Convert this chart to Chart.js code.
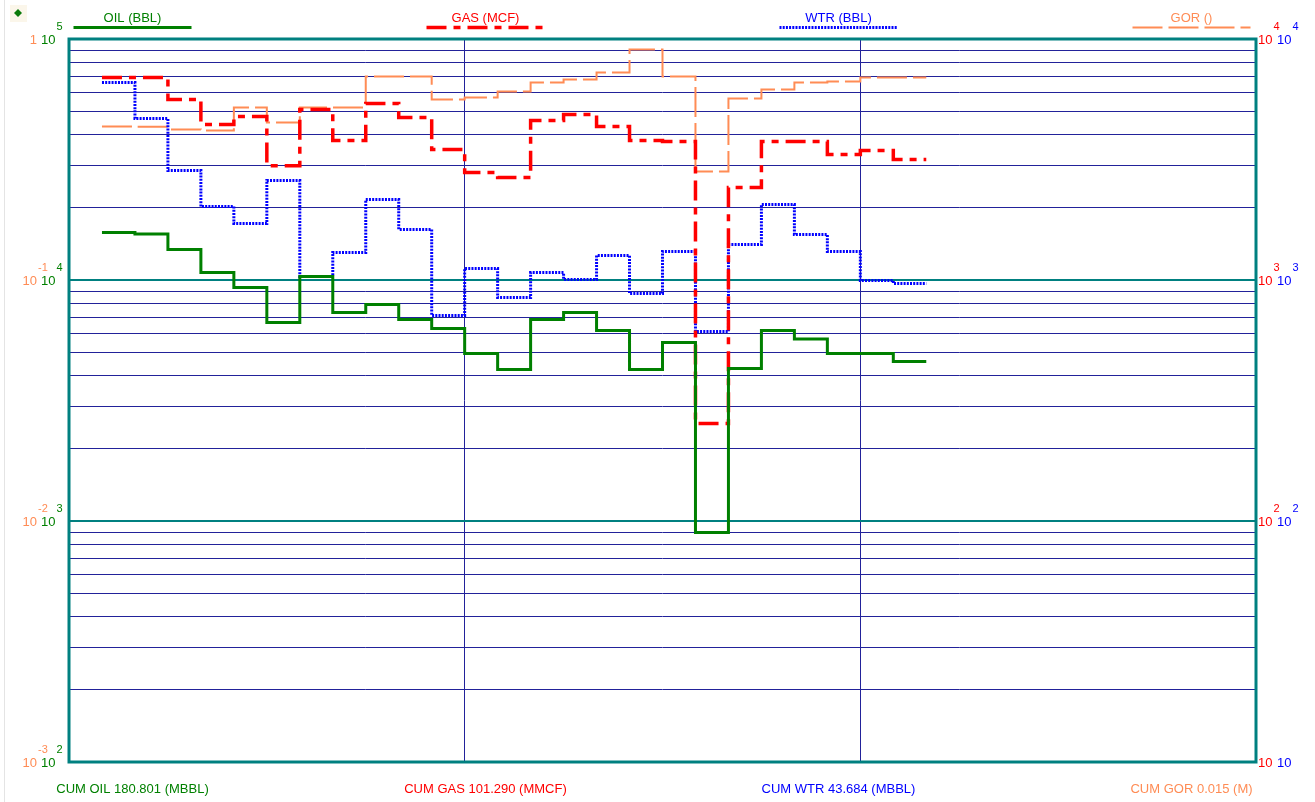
<!DOCTYPE html>
<html><head><meta charset="utf-8">
<script src="https://cdn.jsdelivr.net/npm/chart.js@4.4.1/dist/chart.umd.min.js"></script>
<style>html,body{margin:0;padding:0;background:#fff}canvas{display:block}</style>
</head><body>
<canvas id="c" width="1315" height="802"></canvas>
<script>
// ---- data (monthly production) ----
const monthStart = [1,2,3,4,5,6,7,8,9,10,11,12,13,14,15,16,17,18,19,20,21,22,23,24,25];
const oilBbl = [15740,15520,13390,10740,9310,6660,10340,7330,7910,6860,6290,4955,4253,6860,7330,6170,4253,5505,896,4294,6170,5690,4955,4955,4590];
const gasMcf = [6922,6922,5610,4418,4770,2980,5100,3792,5400,4724,3479,2793,2663,4590,4861,4334,3792,3756,254,2420,3756,3756,3316,3445,3162];
const wtrBbl = [6599,4679,2847,2018,1716,2588,1034,1300,2158,1620,712,1116,846,1074,1005,1264,879,1313,611,1404,2057,1545,1313,995,967];
const gorRatio = [0.4333,0.432,0.4211,0.4172,0.5196,0.4502,0.5196,0.5196,0.699,0.699,0.561,0.5719,0.6057,0.66,0.6792,0.7261,0.9046,0.699,0.282,0.5665,0.6171,0.66,0.6664,0.6924,0.6924];

const seriesNames = ['OIL (BBL)','GAS (MCF)','WTR (BBL)','GOR ()'];
const cumLabels = ['CUM OIL 180.801 (MBBL)','CUM GAS 101.290 (MMCF)','CUM WTR 43.684 (MBBL)','CUM GOR 0.015 (M)'];

// tick labels
const monthGrid = [0,12,24,36];
const oilTickVals = [1e2,1e3,1e4,1e5];
const oilTickBase = ['10','10','10','10'];
const oilTickExp  = ['2','3','4','5'];
const gorTickVals = [1e-3,1e-2,1e-1,1];
const gorTickBase = ['10','10','10','1'];
const gorTickExp  = ['-3','-2','-1',''];
const gasTickVals = [1e1,1e2,1e3,1e4];
const gasTickBase = ['10','10','10','10'];
const gasTickExp  = ['','2','3','4'];
const wtrTickVals = [1e1,1e2,1e3,1e4];
const wtrTickBase = ['10','10','10','10'];
const wtrTickExp  = ['','2','3','4'];

// ---- styles ----
const TEAL = '#008080', NAVY = '#22229a';
const C_OIL = '#008000', C_GAS = '#ff0000', C_WTR = '#0000ff', C_GOR = '#ff8c55';
const FONT = '"Liberation Sans", Arial, sans-serif';

function steps(vals){
  const pts = [];
  vals.forEach((v,i)=>{ pts.push({x:monthStart[i], y:v}); pts.push({x:monthStart[i]+1, y:v}); });
  return pts;
}
function logGridValues(lo, hi){
  const out = [];
  for (let e = Math.round(Math.log10(lo)); e < Math.round(Math.log10(hi)); e++)
    for (let k = 1; k <= 9; k++) out.push(+(k*Math.pow(10,e)).toPrecision(6));
  out.push(hi);
  return out;
}
const isDecade = v => Math.abs(Math.log10(v) - Math.round(Math.log10(v))) < 1e-9;

const decor = {
  id: 'decor',
  afterDraw(chart){
    const ctx = chart.ctx, a = chart.chartArea, s = chart.scales;
    ctx.save();
    // faint left rule and marker
    ctx.fillStyle = '#e4e4e4'; ctx.fillRect(4, 0, 1, 802);
    ctx.fillStyle = '#fbf6ea'; ctx.fillRect(10, 5, 17, 17);
    ctx.fillStyle = '#0a7a0a';
    ctx.beginPath(); ctx.moveTo(18,9); ctx.lineTo(22,13); ctx.lineTo(18,17); ctx.lineTo(14,13); ctx.closePath(); ctx.fill();
    // frame
    ctx.strokeStyle = TEAL; ctx.lineWidth = 3;
    ctx.strokeRect(a.left, a.top, a.right - a.left, a.bottom - a.top);

    function pow(base, exp, x, y, color, align){
      ctx.fillStyle = color;
      ctx.font = '13px ' + FONT; ctx.textBaseline = 'middle'; ctx.textAlign = align;
      ctx.fillText(base, x, y + 1);
      const w = ctx.measureText(base).width;
      if (exp){
        ctx.font = '11px ' + FONT; ctx.textAlign = 'left';
        const ex = align === 'right' ? x + 1 : x + w + 1;
        ctx.fillText(exp, ex, y - 12);
      }
    }
    gorTickVals.forEach((v,i)=> pow(gorTickBase[i], gorTickExp[i], 37, s.yGor.getPixelForValue(v), C_GOR, 'right'));
    oilTickVals.forEach((v,i)=> pow(oilTickBase[i], oilTickExp[i], 41, s.yOil.getPixelForValue(v), C_OIL, 'left'));
    gasTickVals.forEach((v,i)=> pow(gasTickBase[i], gasTickExp[i], 1258, s.yGas.getPixelForValue(v), C_GAS, 'left'));
    wtrTickVals.forEach((v,i)=> pow(wtrTickBase[i], wtrTickExp[i], 1277, s.yWtr.getPixelForValue(v), C_WTR, 'left'));

    // legend (top) and cumulative labels (bottom)
    const centers = [132.5, 485.5, 838.5, 1191.5];
    chart.data.datasets.forEach((ds, i)=>{
      const cx = centers[i];
      ctx.strokeStyle = ds.borderColor; ctx.lineWidth = ds.borderWidth;
      ctx.setLineDash(ds.borderDash || []);
      ctx.beginPath(); ctx.moveTo(cx - 59, 27.5); ctx.lineTo(cx + 59, 27.5); ctx.stroke();
      ctx.setLineDash([]);
      ctx.fillStyle = ds.borderColor; ctx.font = '13px ' + FONT;
      ctx.textAlign = 'center'; ctx.textBaseline = 'middle';
      ctx.fillText(seriesNames[i], cx, 18);
      ctx.fillText(cumLabels[i], cx, 789);
    });
    ctx.restore();
  }
};

new Chart(document.getElementById('c'), {
  type: 'line',
  data: { datasets: [
    { label: seriesNames[0], data: steps(oilBbl), yAxisID: 'yOil', borderColor: C_OIL, borderWidth: 3, pointRadius: 0, borderDash: [] },
    { label: seriesNames[1], data: steps(gasMcf), yAxisID: 'yGas', borderColor: C_GAS, borderWidth: 3.5, pointRadius: 0, borderDash: [20,7,7,7] },
    { label: seriesNames[2], data: steps(wtrBbl), yAxisID: 'yWtr', borderColor: C_WTR, borderWidth: 3, pointRadius: 0, borderDash: [2,1.2] },
    { label: seriesNames[3], data: steps(gorRatio), yAxisID: 'yGor', borderColor: C_GOR, borderWidth: 2, pointRadius: 0, borderDash: [30,6] }
  ]},
  options: {
    responsive: false, animation: false,
    layout: { padding: { left: 69, right: 59, top: 39, bottom: 40 } },
    plugins: { legend: { display: false }, tooltip: { enabled: false } },
    elements: { line: { tension: 0, fill: false } },
    scales: {
      x: { type: 'linear', min: 0, max: 36,
           afterBuildTicks: sc => { sc.ticks = monthGrid.map(v => ({value: v})); },
           ticks: { display: false }, border: { display: false },
           grid: { color: NAVY, lineWidth: 1, drawTicks: false } },
      yOil: { type: 'logarithmic', position: 'left', min: 1e2, max: 1e5,
           afterBuildTicks: sc => { sc.ticks = logGridValues(1e2, 1e5).map(v => ({value: v})); },
           ticks: { display: false }, border: { display: false },
           grid: { drawTicks: false,
                   color: c => isDecade(c.tick.value) ? TEAL : NAVY,
                   lineWidth: c => isDecade(c.tick.value) ? 2 : 1 } },
      yGor: { type: 'logarithmic', position: 'left', min: 1e-3, max: 1, display: false },
      yGas: { type: 'logarithmic', position: 'right', min: 1e1, max: 1e4, display: false },
      yWtr: { type: 'logarithmic', position: 'right', min: 1e1, max: 1e4, display: false }
    }
  },
  plugins: [decor]
});
</script>
</body></html>
